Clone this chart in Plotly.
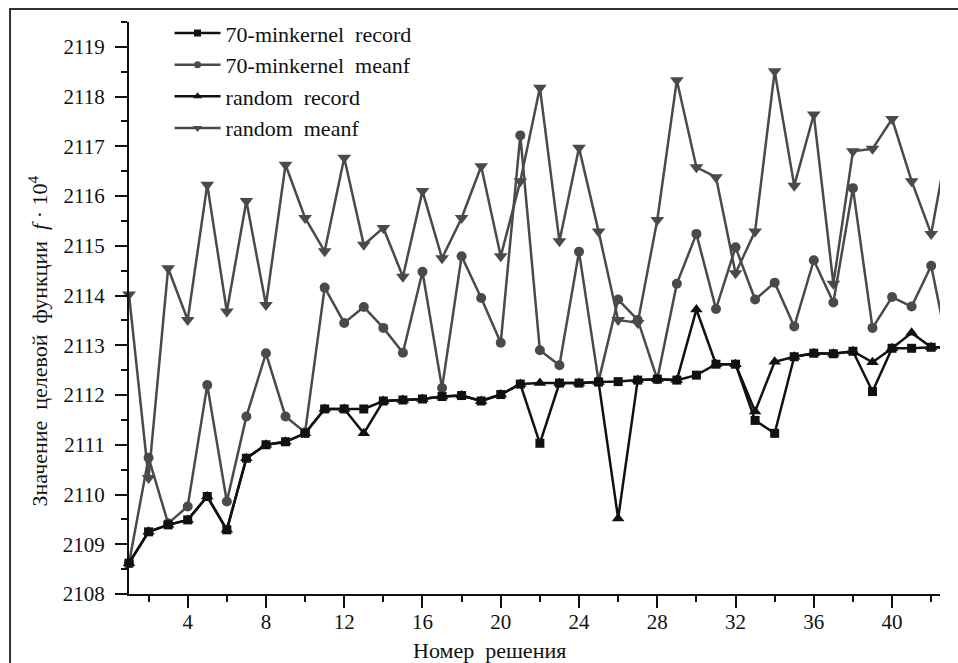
import plotly.graph_objects as go

# ---- data ----
solution = list(range(1, 43))
solution_ext = [42, 43]  # continuation beyond the right edge (clipped)

rec_70 = [2108.62, 2109.25, 2109.39, 2109.49, 2109.96, 2109.29, 2110.73, 2111.00, 2111.06, 2111.23,
          2111.72, 2111.72, 2111.72, 2111.88, 2111.90, 2111.92, 2111.97, 2111.99, 2111.88, 2112.01,
          2112.22, 2111.03, 2112.24, 2112.24, 2112.26, 2112.27, 2112.30, 2112.32, 2112.30, 2112.40,
          2112.62, 2112.62, 2111.49, 2111.23, 2112.77, 2112.84, 2112.83, 2112.88, 2112.07, 2112.94,
          2112.94, 2112.96]
meanf_70 = [2108.62, 2110.74, 2109.42, 2109.76, 2112.20, 2109.86, 2111.57, 2112.84, 2111.57, 2111.25,
            2114.16, 2113.45, 2113.77, 2113.35, 2112.85, 2114.48, 2112.14, 2114.79, 2113.95, 2113.05,
            2117.22, 2112.90, 2112.60, 2114.88, 2112.28, 2113.92, 2113.51, 2112.32, 2114.24, 2115.24,
            2113.73, 2114.97, 2113.92, 2114.26, 2113.38, 2114.71, 2113.86, 2116.16, 2113.35, 2113.97,
            2113.78, 2114.60]
rec_rand = [2108.62, 2109.25, 2109.39, 2109.49, 2109.96, 2109.29, 2110.73, 2111.00, 2111.06, 2111.23,
            2111.72, 2111.72, 2111.23, 2111.88, 2111.90, 2111.92, 2111.97, 2111.99, 2111.88, 2112.01,
            2112.22, 2112.24, 2112.24, 2112.24, 2112.26, 2109.52, 2112.30, 2112.32, 2112.30, 2113.72,
            2112.62, 2112.62, 2111.67, 2112.67, 2112.77, 2112.84, 2112.83, 2112.88, 2112.66, 2112.94,
            2113.25, 2112.96]
meanf_rand = [2114.02, 2110.33, 2114.55, 2113.51, 2116.23, 2113.68, 2115.90, 2113.81, 2116.63, 2115.56,
              2114.89, 2116.77, 2115.02, 2115.36, 2114.38, 2116.10, 2114.75, 2115.56, 2116.60, 2114.79,
              2116.30, 2118.18, 2115.09, 2116.97, 2115.29, 2113.51, 2113.45, 2115.52, 2118.33, 2116.58,
              2116.38, 2114.45, 2115.29, 2118.51, 2116.21, 2117.64, 2114.24, 2116.90, 2116.95, 2117.55,
              2116.30, 2115.24]
ext_rec_70 = [2112.96, 2112.96]
ext_meanf_70 = [2114.60, 2112.67]
ext_rec_rand = [2112.96, 2112.96]
ext_meanf_rand = [2115.24, 2117.39]

names = ["70-minkernel  record", "70-minkernel  meanf", "random  record", "random  meanf"]
x_ticks = [4, 8, 12, 16, 20, 24, 28, 32, 36, 40]
y_ticks = list(range(2108, 2120))

BLACK = "#111111"
GRAY = "#4a4a4a"
FONT = '"Liberation Serif", "Times New Roman", Times, serif'

series = [  # (name, values, extension, colour, symbol, size, legend symbol size, rank)
    (names[3], meanf_rand, ext_meanf_rand, GRAY, "triangle-down", 12, 8, 4),
    (names[1], meanf_70, ext_meanf_70, GRAY, "circle", 10, 7, 2),
    (names[0], rec_70, ext_rec_70, BLACK, "square", 9, 7, 1),
    (names[2], rec_rand, ext_rec_rand, BLACK, "triangle-up", 11, 8, 3),
]

fig = go.Figure()

# extensions (lines only, clipped at plot edge)
for name, vals, ext, col, sym, size, lsize, rank in series:
    fig.add_trace(go.Scatter(x=solution_ext, y=ext, mode="lines", line=dict(color=col, width=2.5),
                             showlegend=False, hoverinfo="skip"))

for name, vals, ext, col, sym, size, lsize, rank in series:
    fig.add_trace(go.Scatter(x=solution, y=vals, name=name, mode="lines+markers",
                             line=dict(color=col, width=2.5), showlegend=False, cliponaxis=False,
                             marker=dict(symbol=sym, size=size, color=col)))

# legend entries (smaller symbols as in the reference)
for name, vals, ext, col, sym, size, lsize, rank in series:
    fig.add_trace(go.Scatter(x=[None], y=[None], name=name, mode="lines+markers",
                             line=dict(color=col, width=2.5), legendrank=rank,
                             marker=dict(symbol=sym, size=lsize, color=col)))

axis_common = dict(showgrid=False, zeroline=False, showline=True, linecolor=BLACK, linewidth=2,
                   ticks="outside", ticklen=12, tickwidth=2, tickcolor=BLACK,
                   tickfont=dict(family=FONT, size=21, color=BLACK),
                   minor=dict(ticks="outside", ticklen=6, tickwidth=2, tickcolor=BLACK))

fig.update_xaxes(range=[1, 42.45], tickvals=x_ticks, ticktext=[str(v) for v in x_ticks],
                 minor_dtick=2, minor_tick0=0, ticklabelstandoff=-4, **axis_common)
fig.update_yaxes(range=[2108, 2119.5], tickvals=y_ticks, ticktext=[str(v) for v in y_ticks],
                 minor_dtick=0.5, minor_tick0=2108, ticklabelstandoff=6, **axis_common)

fig.update_layout(
    width=958, height=663,
    margin=dict(l=129, r=18, t=22, b=69),
    paper_bgcolor="white", plot_bgcolor="white",
    font=dict(family=FONT, color=BLACK),
    showlegend=True,
    legend=dict(x=0.05, y=1.017, xanchor="left", yanchor="top", bgcolor="rgba(0,0,0,0)",
                font=dict(family=FONT, size=22, color=BLACK), itemwidth=46),
    annotations=[
        dict(text="Номер \u00a0решения", xref="paper", yref="paper", x=0.445, y=-0.098,
             xanchor="center", yanchor="middle", showarrow=False,
             font=dict(family=FONT, size=22, color=BLACK)),
        dict(text="Значение \u00a0целевой \u00a0функции \u00a0<i>f</i> · 10<sup>4</sup>",
             xref="paper", yref="paper", x=-0.1134, y=0.4414, textangle=-90,
             xanchor="center", yanchor="middle", showarrow=False,
             font=dict(family=FONT, size=22, color=BLACK)),
    ],
    shapes=[dict(type="rect", xref="paper", yref="paper", x0=-0.1467, y0=-0.3, x1=1.2, y1=1.0227,
                 line=dict(color="#333333", width=2), fillcolor="rgba(0,0,0,0)", layer="below")],
)

fig.write_html("out.html", config={"displayModeBar": False},
               post_script="document.body.style.margin='0px';document.body.style.overflow='hidden';")
